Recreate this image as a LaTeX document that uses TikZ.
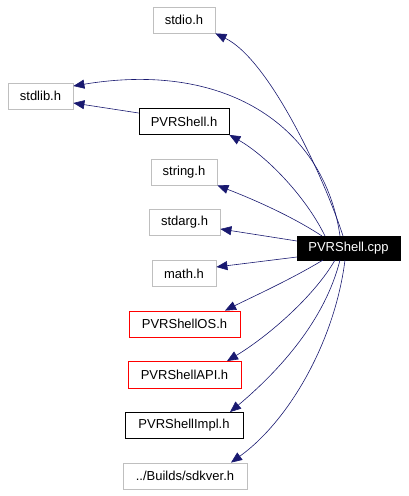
\documentclass[tikz,border=0pt]{standalone}
\usepackage{fontspec}
\setmainfont{Liberation Sans}
\usetikzlibrary{arrows.meta}
\definecolor{edgeblue}{HTML}{191970}
\definecolor{sysgray}{HTML}{BFBFBF}
\begin{document}
\begin{tikzpicture}[x=1pt,y=-1pt,
  box/.style={draw, line width=0.8pt, inner sep=0pt, minimum height=26pt, font=\fontsize{13}{15}\selectfont},
  sysbox/.style={box, draw=sysgray},
  blkbox/.style={box, draw=black},
  redbox/.style={box, draw=red},
  dep/.style={draw=edgeblue, line width=0.6pt, -{Triangle[length=11pt,width=9pt]}}
]
\useasboundingbox (0,0) rectangle (408,496);
\node[sysbox, minimum width=62pt] (stdio) at (184,20) {stdio.h};
\node[sysbox, minimum width=65pt] (stdlib) at (40.5,96) {stdlib.h};
\node[blkbox, minimum width=90pt] (pvrh) at (184,121.5) {PVRShell.h};
\node[sysbox, minimum width=66pt] (string) at (184,172) {string.h};
\node[sysbox, minimum width=71pt] (stdarg) at (184.5,222.5) {stdarg.h};
\node[sysbox, minimum width=64pt] (math) at (184,273.5) {math.h};
\node[box, fill=black, text=white, minimum width=103pt, minimum height=24pt] (cpp) at (348.5,248) {PVRShell.cpp};
\node[redbox, minimum width=111pt] (os) at (184.5,324) {PVRShellOS.h};
\node[redbox, minimum width=113pt, minimum height=27pt] (api) at (184.5,375) {PVRShellAPI.h};
\node[blkbox, minimum width=118pt] (impl) at (184,425.5) {PVRShellImpl.h};
\node[sysbox, minimum width=124pt] (sdk) at (185,476) {../Builds/sdkver.h};

\coordinate (cs1) at (343,236);
\coordinate (cs2) at (340,236);
\coordinate (cs3) at (325,236);
\coordinate (cs4) at (322,236);
\coordinate (cw1) at (297,241);
\coordinate (cw2) at (297,257);
\coordinate (cb1) at (323,260);
\coordinate (cb2) at (335,260);
\coordinate (cb3) at (340,260);
\coordinate (cb4) at (345,260);

\draw[dep] (cs1) .. controls (325,180) and (270,60) .. (stdio.south east);
\draw[dep] (cs2) .. controls (325,130) and (230,60) .. (stdlib.east |- 0,86);
\draw[dep] (pvrh.west |- 0,113) -- (stdlib.east |- 0,103);
\draw[dep] (cs3) .. controls (305,195) and (265,155) .. (pvrh.south east);
\draw[dep] (cs4) .. controls (290,215) and (250,198) .. (string.south east);
\draw[dep] (cw1) -- (stdarg.east |- 0,229);
\draw[dep] (cw2) -- (math.east |- 0,267);
\draw[dep] (cb1) .. controls (290,280) and (250,298) .. (os.north -| 225,0);
\draw[dep] (cb2) .. controls (315,295) and (270,335) .. (api.north -| 227,0);
\draw[dep] (cb3) .. controls (325,320) and (280,370) .. (impl.north -| 230,0);
\draw[dep] (cb4) .. controls (335,340) and (290,420) .. (sdk.north -| 231,0);
\end{tikzpicture}
\end{document}
